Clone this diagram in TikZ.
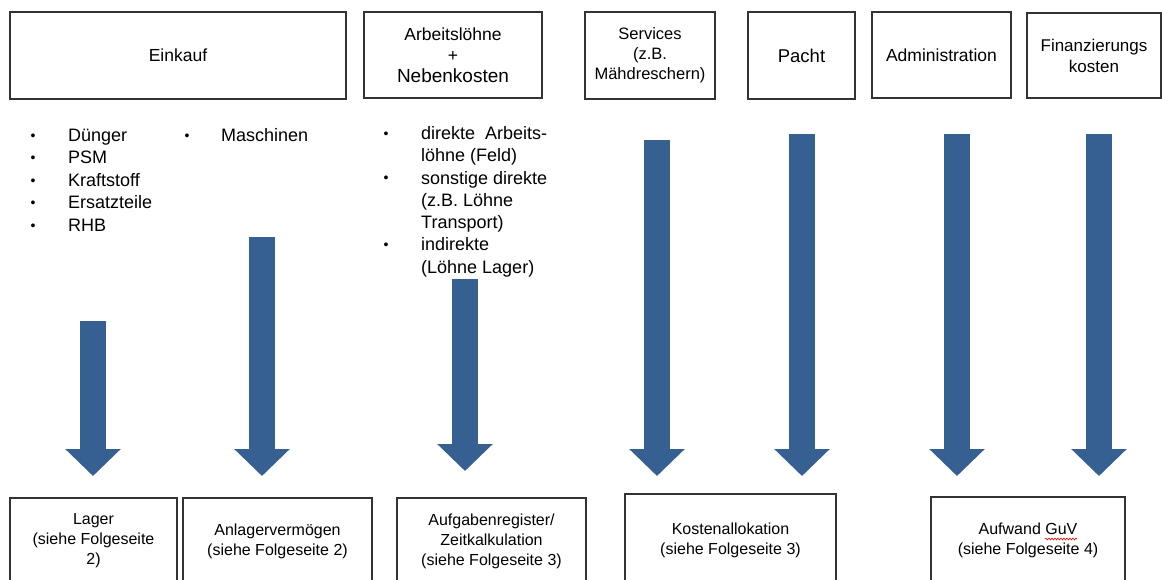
\documentclass[tikz,border=0pt]{standalone}
\usepackage{fontspec}
\setmainfont{Liberation Sans}
\usetikzlibrary{arrows.meta}
\usetikzlibrary{decorations.pathmorphing}
\usetikzlibrary{calc}
\definecolor{flowblue}{RGB}{55,96,146}
\newcommand\listdot{\raisebox{1.2pt}{\fontsize{14}{14}\selectfont•}}

\begin{document}
\begin{tikzpicture}[x=1pt,y=-1pt,
    box/.style={draw=black!80,line width=1.1pt,inner sep=2pt,align=center},
    topfont/.style={font=\fontsize{17.5}{21}\selectfont},
    botfont/.style={font=\fontsize{16}{20}\selectfont},
    listfont/.style={font=\fontsize{18}{22.5}\selectfont,inner sep=0pt,anchor=base west},
    flow/.style={draw=flowblue,line width=26pt,-{Triangle[width=54pt,length=27pt]}}]
		\useasboundingbox (0,0) rectangle (1162,580);
		% top row
		\node[box,topfont,minimum width=336pt,minimum height=87pt] (einkauf) at (178,55.5) {Einkauf};
		\node[box,topfont,minimum width=178pt,minimum height=86pt] (arbeit) at (453,55) {Arbeitslöhne\\+\\{\fontsize{19}{23}\selectfont Nebenkosten}};
		\node[box,font=\fontsize{16.5}{20}\selectfont,minimum width=130pt,minimum height=87pt] (services) at (650,55.5) {Services\\(z.B.\\Mähdreschern)};
		\node[box,font=\fontsize{18.5}{22}\selectfont,minimum width=107pt,minimum height=87pt] (pacht) at (801.5,55.5) {Pacht};
		\node[box,topfont,minimum width=139pt,minimum height=86pt] (admin) at (941.5,55) {Administration};
		\node[box,font=\fontsize{17}{21}\selectfont,minimum width=134pt,minimum height=85pt] (finanz) at (1094,55.5) {Finanzierungs\\kosten};
		% lists
		\node[listfont] (listeinkauf) at (30.5,141.5) {\begin{tabular}[t]{@{}p{37.5pt}@{}l@{}}
			\listdot&Dünger\\ \listdot&PSM\\ \listdot&Kraftstoff\\ \listdot&Ersatzteile\\ \listdot&RHB
		\end{tabular}};
		\node[listfont] (listmasch) at (184.5,141.5) {\begin{tabular}[t]{@{}p{36.5pt}@{}l@{}}
			\listdot&Maschinen
		\end{tabular}};
		\node[listfont,font=\fontsize{18}{22.3}\selectfont] (listarbeit) at (383.5,139.5) {\begin{tabular}[t]{@{}p{37.5pt}@{}l@{}}
			\listdot&direkte\hspace{0.55em}Arbeits-\\ &löhne (Feld)\\ \listdot&sonstige direkte\\ &(z.B. Löhne\\ &Transport)\\ \listdot&indirekte\\ &(Löhne Lager)
		\end{tabular}};
		% arrows
		\foreach \x/\t/\e [count=\i] in {93/321/476, 262/237/476, 465/279/471, 657/140/476, 802/134/476, 957/134/476, 1099/134/476}{
			\coordinate (s\i) at (\x,\t);
			\coordinate (e\i) at (\x,\e);
			\draw[flow] (s\i) -- (e\i);
		}
		% bottom row
		\node[box,botfont,minimum width=167pt,minimum height=86pt] (lager) at (93.5,541) {Lager\\(siehe Folgeseite\\2)};
		\node[box,botfont,minimum width=189pt,minimum height=86pt] (anlage) at (277.5,541) {Anlagervermögen\\(siehe Folgeseite 2)};
		\node[box,botfont,minimum width=189pt,minimum height=86pt] (aufgabe) at (491.5,541) {Aufgabenregister/\\Zeitkalkulation\\(siehe Folgeseite 3)};
		\node[box,botfont,minimum width=211pt,minimum height=92pt] (kosten) at (730.5,540) {Kostenallokation\\(siehe Folgeseite 3)};
		\node[box,botfont,minimum width=194pt,minimum height=86pt] (aufwand) at (1028,540) {Aufwand GuV\\(siehe Folgeseite 4)};
		% spell check wave
		\coordinate (w1) at ($(aufwand.center)+(17,-1)$);
		\coordinate (w2) at ($(aufwand.center)+(49,-1)$);
		\draw[red,line width=0.6pt,decorate,decoration={snake,amplitude=0.9pt,segment length=3pt}] (w1) -- (w2);
	\end{tikzpicture}
\end{document}
